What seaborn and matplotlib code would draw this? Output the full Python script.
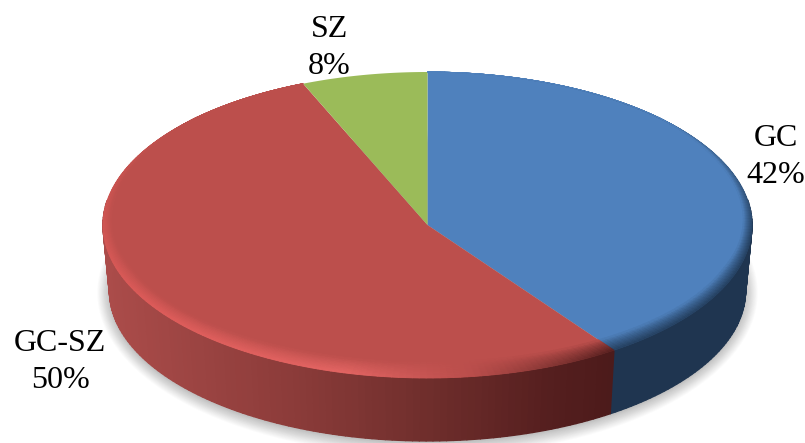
import numpy as np
import matplotlib
matplotlib.use("Agg")
import matplotlib.pyplot as plt
import seaborn as sns
from matplotlib.collections import PolyCollection
from matplotlib.colors import LinearSegmentedColormap, to_rgb
from matplotlib.patches import Ellipse
from matplotlib.path import Path
from matplotlib.transforms import Affine2D, Transform

categories = ["GC", "GC-SZ", "SZ"]
percentages = [42, 50, 8]
face_colors = ["#4f81bd", "#bc4f4c", "#9bbb59"]

W, H = 805, 443
CX, CY, RX, RY = 427.5, 225.0, 324.5, 153.0  # top face ellipse, pixels
DEPTH = 66 / RY
BOTTOM_SCALE = 0.98
WARP = np.radians(13)

sns.set_theme(style="white")
plt.rcParams["font.family"] = ["Liberation Serif", "DejaVu Serif"]


def warp(phi):
    return phi - WARP * np.sin(phi)


class PieView(Transform):
    """Small angular distortion of the tilted 3-D pie."""
    input_dims = output_dims = 2
    has_inverse = False

    def transform_non_affine(self, values):
        v = np.asarray(values, float)
        r = np.hypot(v[:, 0], v[:, 1])
        p = warp(np.arctan2(v[:, 0], v[:, 1]))
        return np.column_stack([r * np.sin(p), r * np.cos(p)])

    def transform_path_non_affine(self, path):
        scale = Affine2D().scale(2000)
        polys = path.to_polygons(transform=scale, closed_only=False)
        pts = np.concatenate(polys) / 2000
        return Path(self.transform_non_affine(pts))


fig = plt.figure(figsize=(W / 100, H / 100), dpi=100)
ax = fig.add_axes([0, 0, 1, 1])

wedges, _ = ax.pie(percentages, colors=sns.color_palette(face_colors),
                   startangle=90, counterclock=False,
                   wedgeprops={"linewidth": 0, "zorder": 3})
view = PieView()
for w in wedges:
    w.set_transform(view + ax.transData)

ax.set_aspect("auto")
ax.set_xlim(-CX / RX, (W - CX) / RX)
ax.set_ylim((CY - H) / RY, CY / RY)
ax.axis("off")

# soft shadow under the disc
NS = 18
for k in range(NS):
    g = k / (NS - 1)
    ax.add_patch(Ellipse((0, -DEPTH - 0.012), 2 * BOTTOM_SCALE + 0.075 * (1 - g) ** 1.2,
                         2 * BOTTOM_SCALE + 0.17 * (1 - g) ** 1.2,
                         facecolor="#707070", alpha=0.028, lw=0, zorder=1))

side_red = LinearSegmentedColormap.from_list(
    "side_red", [(0, "#ab4c4a"), (0.3, "#8a3b39"), (0.5, "#6f2e2c"),
                 (0.7, "#541e1e"), (0.8, "#4b1a1a"), (1, "#4b1a1a")])
side_blue = "#1f3550"

# rim colour of the bevel, by clockwise angle from the top
rim_table = {
    0: ([0, 60, 95, 150], ["#4f81bd", "#3f6795", "#243f5f", "#243f5f"]),
    1: ([144, 156, 172, 195, 240, 285, 320],
        ["#4f1c1c", "#7d3230", "#b94d4b", "#e56664", "#df5c5a", "#cc5451", "#bc4f4c"]),
}


def rim_colour(i, phi_deg):
    xp, cols = rim_table[i]
    rgb = np.array([to_rgb(c) for c in cols])
    return np.array([np.interp(phi_deg, xp, rgb[:, j]) for j in range(3)])


def band(q, t):
    weight = np.clip(0.7 - np.cos(q), 0, 1)
    thick = weight * (0.040 * np.sin(q) ** 2 + 0.105 * np.cos(q) ** 2)
    r = 1 - t * thick
    return r * np.sin(q), r * np.cos(q)


side_polys, side_cols = [], []
rim_polys, rim_cols = [], []
NR = 10
bounds = np.concatenate([[0], np.cumsum(percentages)]) * 3.6
for i, (a0, a1) in enumerate(zip(bounds[:-1], bounds[1:])):
    steps = np.radians(np.linspace(a0, a1, int(a1 - a0) + 2))
    face = np.array(to_rgb(face_colors[i]))
    for p0, p1 in zip(steps[:-1], steps[1:]):
        q0, q1 = warp(p0), warp(p1)
        if np.cos(q0) < 0.15 or np.cos(q1) < 0.15:
            side_polys.append([
                (np.sin(q0), np.cos(q0)), (np.sin(q1), np.cos(q1)),
                (BOTTOM_SCALE * np.sin(q1), BOTTOM_SCALE * np.cos(q1) - DEPTH),
                (BOTTOM_SCALE * np.sin(q0), BOTTOM_SCALE * np.cos(q0) - DEPTH)])
            xm = (np.sin(q0) + np.sin(q1)) / 2
            if i == 0:
                side_cols.append(to_rgb(side_blue))
            elif i == 1:
                side_cols.append(side_red((xm + 1) / 2))
            else:
                side_cols.append(face)
        if i < 2:
            qm = (q0 + q1) / 2
            rim = rim_colour(i, np.degrees(qm) % 360)
            for k in range(NR):
                t0, t1 = k / NR, (k + 1) / NR
                rim_polys.append([band(q0, t0), band(q1, t0), band(q1, t1), band(q0, t1)])
                mix = (1 - (t0 + t1) / 2) ** 0.8
                rim_cols.append(face + (rim - face) * mix)

ax.add_collection(PolyCollection(side_polys, facecolors=side_cols, edgecolors=side_cols,
                                 linewidths=1.0, zorder=2))
ax.add_collection(PolyCollection(rim_polys, facecolors=rim_cols, edgecolors=rim_cols,
                                 linewidths=0.6, zorder=4))

label_pos = [(776, 157), (60, 362), (329, 48)]
for name, pct, (px, py) in zip(categories, percentages, label_pos):
    ax.text(px / W, 1 - py / H, f"{name}\n{pct}%", transform=ax.transAxes,
            ha="center", va="center", fontsize=23, color="black",
            linespacing=1.38, zorder=6)

fig.savefig("out.png", dpi=100, facecolor="white")
